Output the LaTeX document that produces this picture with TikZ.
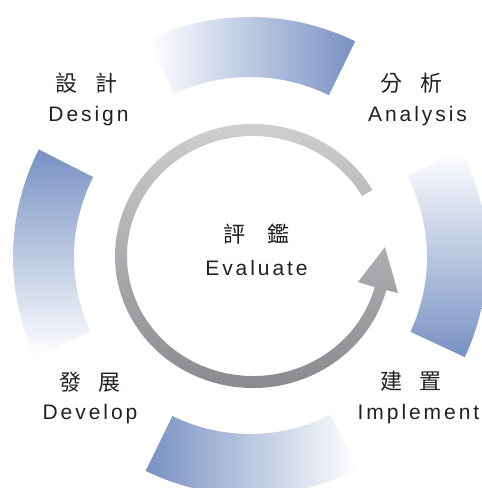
\documentclass[tikz,border=0pt]{standalone}
\usepackage{fontspec}
\setmainfont{Liberation Sans}
\newfontfamily\latfont[LetterSpace=14]{Liberation Sans}
\newfontfamily\cjkfont{Noto Sans CJK TC}
\definecolor{bluedark}{HTML}{7891C3}
\definecolor{bluemid}{HTML}{96B4DC}
\definecolor{ringlight}{HTML}{D2D3D5}
\definecolor{ringdark}{HTML}{85868A}
\definecolor{txt}{HTML}{231F20}
\begin{document}
\begin{tikzpicture}[x=1pt,y=1pt,
  lat/.style={font=\latfont\fontsize{21}{25}\selectfont, text=txt, inner sep=0pt, anchor=base},
  cjk/.style={font=\cjkfont\fontsize{22}{26}\selectfont, text=txt, inner sep=0pt}]
\useasboundingbox (0,0) rectangle (482,488);
\clip (0,0) rectangle (482,488);
% blue arc segments
\shade[left color=white, middle color=bluemid, right color=bluedark]
  ([shift={(250,231)}]64:240) arc[start angle=64,end angle=115,radius=240]
  -- ([shift={(250,231)}]115:180) arc[start angle=115,end angle=64,radius=180] -- cycle;
\shade[top color=bluedark, middle color=bluemid, bottom color=white]
  ([shift={(250,231)}]153:237) arc[start angle=153,end angle=205,radius=237]
  -- ([shift={(250,231)}]205:176) arc[start angle=205,end angle=153,radius=176] -- cycle;
\shade[left color=bluedark, middle color=bluemid, right color=white]
  ([shift={(250,231)}]244:238) arc[start angle=244,end angle=297,radius=238]
  -- ([shift={(250,231)}]297:177) arc[start angle=297,end angle=244,radius=177] -- cycle;
\shade[top color=white, middle color=bluemid, bottom color=bluedark]
  ([shift={(250,231)}]-25:237) arc[start angle=-25,end angle=27,radius=237]
  -- ([shift={(250,231)}]27:177) arc[start angle=27,end angle=-25,radius=177] -- cycle;
% grey cycle arrow
\shade[top color=ringlight, bottom color=ringdark]
  ([shift={(253,232)}]30:138 and 132) arc[start angle=30,end angle=345,x radius=138,y radius=132]
  -- (398,195) -- (385,241) -- (358,206)
  -- ([shift={(253,232)}]345:126 and 120) arc[start angle=345,end angle=30,x radius=126,y radius=120] -- cycle;
% labels
\node[cjk] (dcjk) at (86.5,405) {設\hspace{18pt}計};
\node[lat] (design) at (88.5,366) {Design};
\node[cjk] (acjk) at (411.5,405) {分\hspace{18pt}析};
\node[lat] (analysis) at (417.5,366) {Analysis};
\node[cjk] (vcjk) at (90,106) {發\hspace{18pt}展};
\node[lat] (develop) at (90,68) {Develop};
\node[cjk] (icjk) at (411,107) {建\hspace{18pt}置};
\node[lat] (implement) at (418.5,68) {Implement};
\node[cjk] (ecjk) at (256,254) {評\hspace{22pt}鑑};
\node[lat] (evaluate) at (256.5,212) {Evaluate};
\end{tikzpicture}
\end{document}
